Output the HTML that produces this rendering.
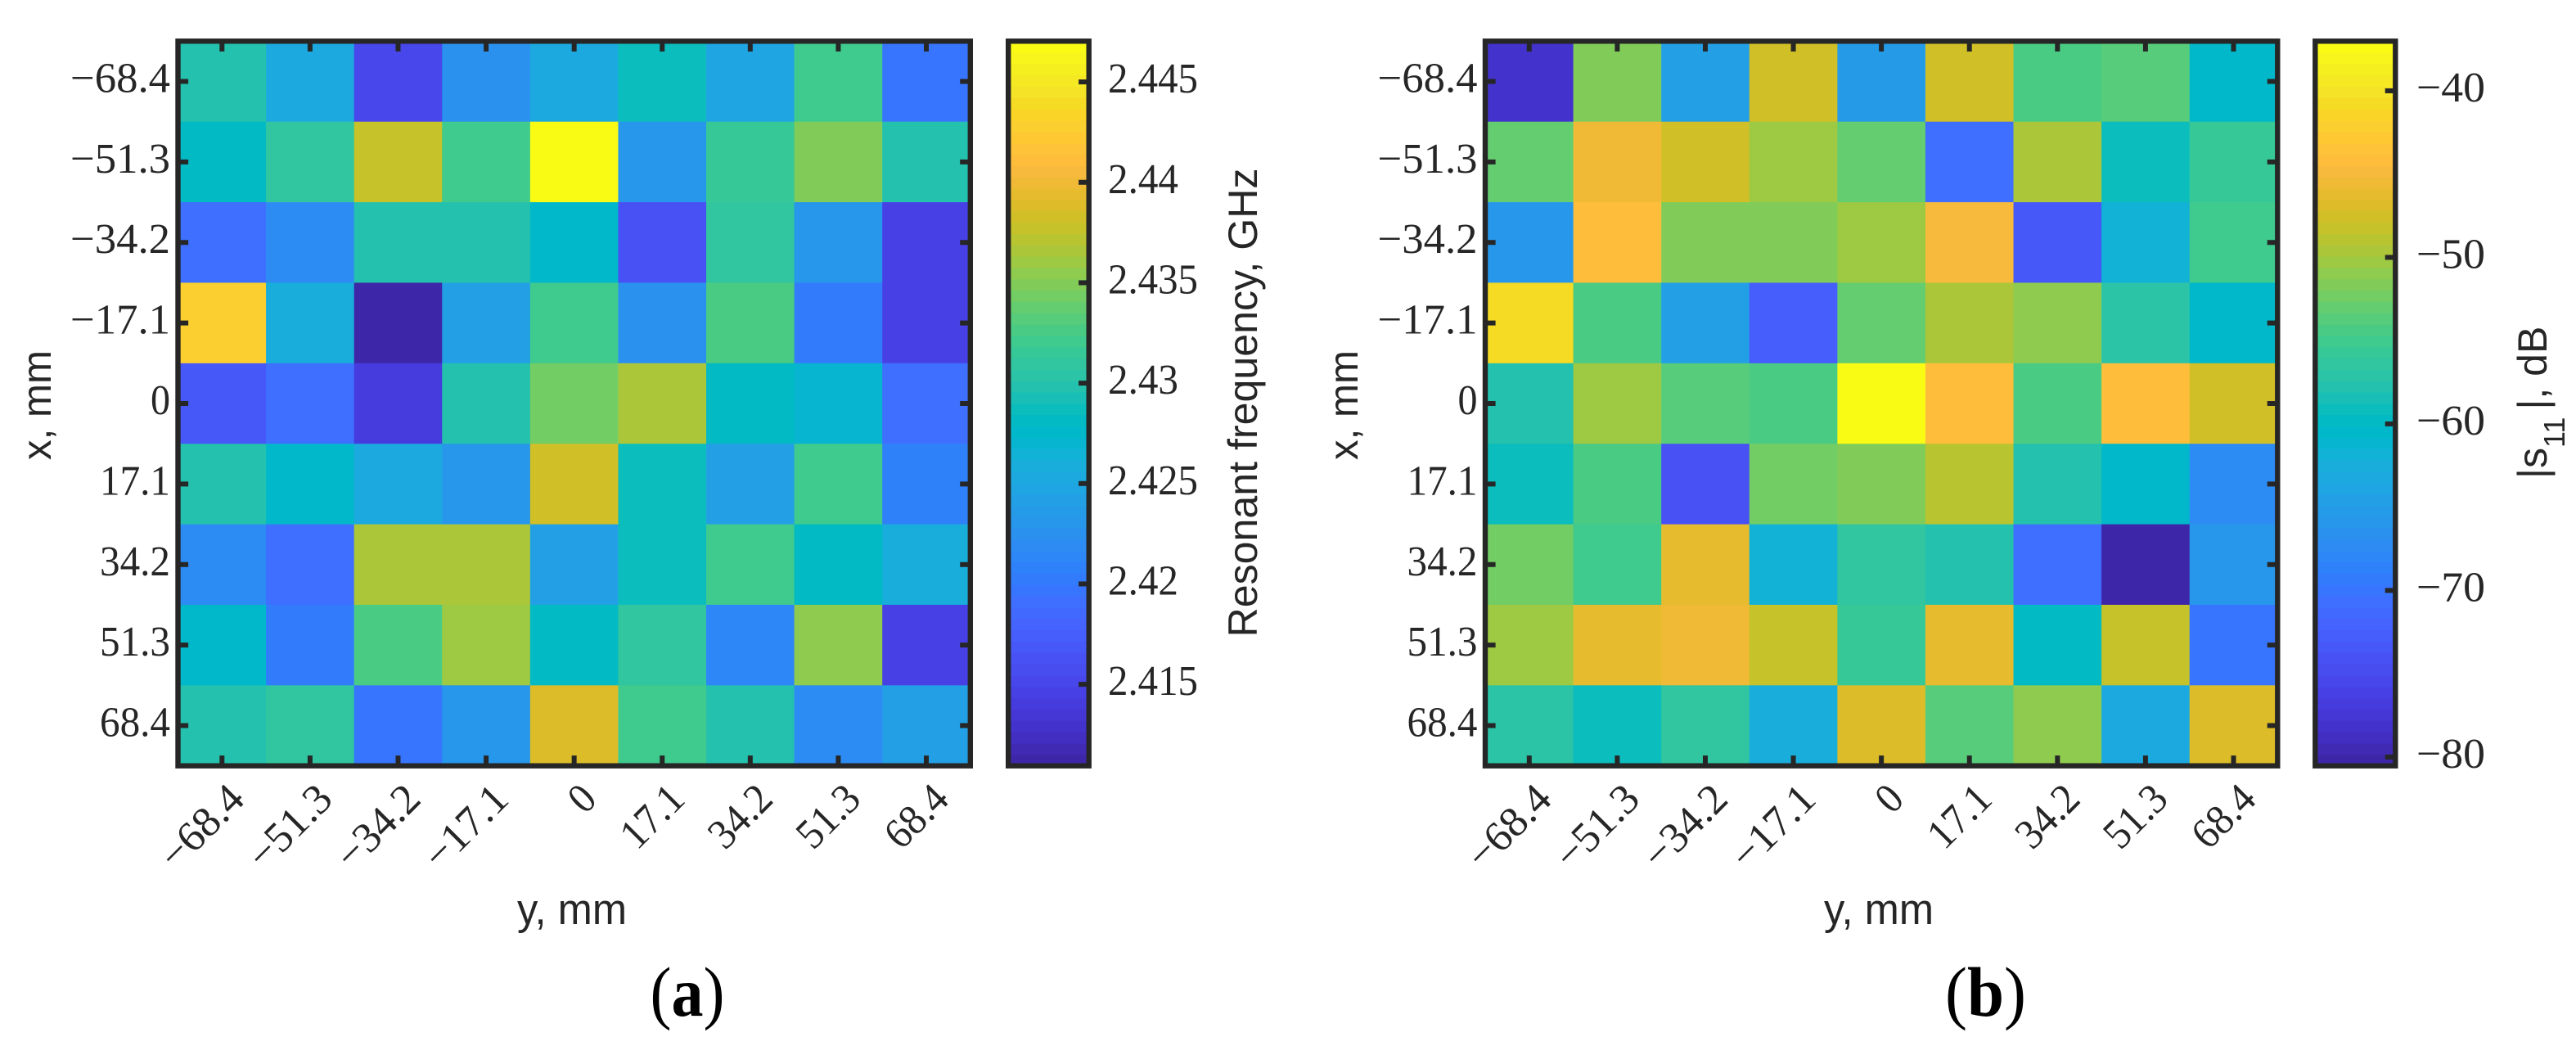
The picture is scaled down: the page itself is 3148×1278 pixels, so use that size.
<!DOCTYPE html>
<html lang="en">
<head>
<meta charset="utf-8">
<title>Resonant frequency and s11 heatmaps</title>
<style>
html,body{margin:0;padding:0;background:#fff;}
svg{display:block;}
.tick{font-family:"Liberation Serif",serif;font-size:52px;fill:#262626;}
.title{font-family:"Liberation Sans",sans-serif;fill:#262626;}
.cap{font-family:"Liberation Serif",serif;font-size:86px;fill:#000;}
</style>
</head>
<body>
<svg id="fig" xmlns="http://www.w3.org/2000/svg" width="3148" height="1278" viewBox="0 0 3148 1278">
<rect x="0" y="0" width="3148" height="1278" fill="#ffffff"/>
<g id="panel-a"></g>
<g id="panel-b"></g>

<text class="title" font-size="53" x="699" y="1129" text-anchor="middle" textLength="134" lengthAdjust="spacingAndGlyphs">y, mm</text>
<text class="title" font-size="50" transform="translate(62,495) rotate(-90)" text-anchor="middle" textLength="134" lengthAdjust="spacingAndGlyphs">x, mm</text>
<text class="title" font-size="50" transform="translate(1536,492) rotate(-90)" text-anchor="middle" textLength="573" lengthAdjust="spacingAndGlyphs">Resonant frequency, GHz</text>
<text class="cap" x="840" y="1241" text-anchor="middle" textLength="91" lengthAdjust="spacingAndGlyphs">(<tspan font-weight="bold">a</tspan>)</text>

<text class="title" font-size="53" x="2296" y="1129" text-anchor="middle" textLength="134" lengthAdjust="spacingAndGlyphs">y, mm</text>
<text class="title" font-size="50" transform="translate(1659,495) rotate(-90)" text-anchor="middle" textLength="134" lengthAdjust="spacingAndGlyphs">x, mm</text>
<text class="title" font-size="50" transform="translate(3112,585) rotate(-90)">|s<tspan font-size="36" dy="22">11</tspan><tspan dx="9" dy="-22">|, dB</tspan></text>
<text class="cap" x="2426.5" y="1241" text-anchor="middle" textLength="99" lengthAdjust="spacingAndGlyphs">(<tspan font-weight="bold">b</tspan>)</text>
</svg>

<script>
const categories = ['\u221268.4','\u221251.3','\u221234.2','\u221217.1','0','17.1','34.2','51.3','68.4'];

const freqRow1 = [2.4298,2.4253,2.4152,2.4225,2.4253,2.4287,2.4248,2.4321,2.4197];
const freqRow2 = [2.4281,2.4310,2.4377,2.4321,2.4467,2.4231,2.4315,2.4349,2.4298];
const freqRow3 = [2.4191,2.4219,2.4298,2.4298,2.4276,2.4163,2.4310,2.4231,2.4146];
const freqRow4 = [2.4428,2.4259,2.4112,2.4242,2.4321,2.4225,2.4327,2.4202,2.4146];
const freqRow5 = [2.4169,2.4191,2.4140,2.4298,2.4343,2.4366,2.4281,2.4270,2.4191];
const freqRow6 = [2.4298,2.4276,2.4253,2.4231,2.4383,2.4287,2.4242,2.4321,2.4208];
const freqRow7 = [2.4219,2.4191,2.4366,2.4366,2.4242,2.4287,2.4321,2.4281,2.4259];
const freqRow8 = [2.4276,2.4202,2.4327,2.4360,2.4281,2.4310,2.4214,2.4355,2.4146];
const freqRow9 = [2.4298,2.4310,2.4197,2.4231,2.4389,2.4321,2.4298,2.4219,2.4242];
const freqValues = [freqRow1,freqRow2,freqRow3,freqRow4,freqRow5,freqRow6,freqRow7,freqRow8,freqRow9];
const freqRange = [2.41094,2.44703];
const freqTicks = [2.415,2.42,2.425,2.43,2.435,2.44,2.445];
const freqTickLabels = ['2.415','2.42','2.425','2.43','2.435','2.44','2.445'];

const s11Row1 = [-78.3,-51.8,-64.7,-47.7,-65.4,-47.7,-54.5,-53.8,-60.6];
const s11Row2 = [-53.1,-45.7,-47.7,-50.4,-53.1,-70.8,-49.7,-59.3,-55.9];
const s11Row3 = [-66.1,-44.3,-51.8,-51.8,-50.4,-45.0,-73.5,-62.0,-55.2];
const s11Row4 = [-40.9,-54.5,-64.7,-72.9,-53.1,-49.7,-51.1,-57.2,-60.6];
const s11Row5 = [-57.9,-50.4,-53.8,-54.5,-37.5,-44.3,-54.5,-44.3,-47.7];
const s11Row6 = [-59.3,-54.5,-74.2,-52.5,-51.8,-49.1,-57.9,-60.6,-67.4];
const s11Row7 = [-52.5,-55.2,-46.3,-62.0,-56.5,-57.9,-70.8,-80.3,-66.1];
const s11Row8 = [-50.4,-46.3,-45.7,-48.4,-55.9,-46.3,-60.0,-48.4,-70.1];
const s11Row9 = [-57.2,-59.3,-56.5,-62.7,-47.0,-53.8,-51.1,-63.3,-47.0];
const s11Values = [s11Row1,s11Row2,s11Row3,s11Row4,s11Row5,s11Row6,s11Row7,s11Row8,s11Row9];
const s11Range = [-80.53,-37.02];
const s11Ticks = [-80,-70,-60,-50,-40];
const s11TickLabels = ['\u221280','\u221270','\u221260','\u221250','\u221240'];

const parula = [
[.2422,.1504,.6603],[.2504,.1650,.7076],[.2578,.1818,.7511],[.2647,.1978,.7952],
[.2706,.2147,.8364],[.2751,.2342,.8710],[.2783,.2559,.8991],[.2803,.2782,.9221],
[.2813,.3006,.9414],[.2810,.3228,.9579],[.2795,.3447,.9717],[.2760,.3667,.9829],
[.2699,.3892,.9906],[.2602,.4123,.9952],[.2440,.4358,.9988],[.2206,.4603,.9973],
[.1963,.4847,.9892],[.1834,.5074,.9798],[.1786,.5289,.9682],[.1764,.5499,.9520],
[.1687,.5703,.9359],[.1540,.5902,.9218],[.1460,.6091,.9079],[.1380,.6276,.8973],
[.1248,.6459,.8883],[.1113,.6635,.8763],[.0952,.6798,.8598],[.0689,.6948,.8394],
[.0297,.7082,.8163],[.0036,.7197,.7917],[.0066,.7295,.7660],[.0433,.7411,.7394],
[.0964,.7500,.7120],[.1408,.7584,.6842],[.1717,.7670,.6554],[.1938,.7758,.6251],
[.2161,.7843,.5923],[.2470,.7918,.5567],[.2906,.7973,.5188],[.3406,.8008,.4789],
[.3909,.8029,.4354],[.4456,.8024,.3909],[.5044,.7993,.3480],[.5616,.7942,.3045],
[.6174,.7876,.2612],[.6720,.7793,.2227],[.7242,.7698,.1910],[.7738,.7598,.1646],
[.8203,.7498,.1535],[.8634,.7406,.1596],[.9035,.7330,.1774],[.9393,.7288,.2100],
[.9728,.7298,.2394],[.9956,.7434,.2371],[.9970,.7659,.2199],[.9952,.7861,.1999],
[.9892,.8137,.1881],[.9786,.8342,.1546],[.9597,.8600,.1400],[.9610,.8890,.1537],
[.9597,.9135,.1423],[.9628,.9373,.1265],[.9691,.9606,.1064],[.9769,.9839,.0805]
];

const NS = 'http://www.w3.org/2000/svg';
const INK = '#262626';
const TOP = 50.3, BOTTOM = 935.7, FRAME = 6, TICK_LEN = 12.6;

function svgEl(parent, tag) {
  const el = document.createElementNS(NS, tag);
  parent.appendChild(el);
  return el;
}
function rgb(c) {
  return 'rgb(' + c.map(function (v) { return Math.round(v * 255); }).join(',') + ')';
}
function colorFor(v, range) {
  const t = (v - range[0]) / (range[1] - range[0]);
  const i = Math.max(0, Math.min(parula.length - 1, Math.floor(t * parula.length)));
  return rgb(parula[i]);
}
function labelWidth(s) {
  let w = 0;
  for (const ch of s) {
    if (ch === '\u2212') w += 36;
    else if (ch === '.') w += 14;
    else w += 24;
  }
  return w;
}
function drawLine(parent, x1, y1, x2, y2, name) {
  const l = svgEl(parent, 'line');
  
  
  l.setAttribute('x1', x1); l.setAttribute('y1', y1);
  l.setAttribute('x2', x2); l.setAttribute('y2', y2);
  l.setAttribute('stroke', INK);
  l.setAttribute('stroke-width', FRAME);
  return l;
}
function drawFrame(parent, x, y, w, h, name) {
  const f = svgEl(parent, 'rect');
  
  
  f.setAttribute('x', x); f.setAttribute('y', y);
  f.setAttribute('width', w); f.setAttribute('height', h);
  f.setAttribute('fill', 'none');
  f.setAttribute('stroke', INK);
  f.setAttribute('stroke-width', FRAME + 0.4);
  f.setAttribute('stroke-linejoin', 'miter');
}
function drawTickText(parent, x, y, s, name) {
  const t = svgEl(parent, 'text');
  
  
  t.setAttribute('class', 'tick');
  t.setAttribute('x', x);
  t.setAttribute('y', y);
  t.setAttribute('text-anchor', 'end');
  t.setAttribute('textLength', labelWidth(s));
  t.setAttribute('lengthAdjust', 'spacingAndGlyphs');
  t.textContent = s;
  return t;
}

function drawPanel(parentId, left, right, values, range, ticks, tickLabels, cbLeft, cbRight, cbLabelX) {
  const g = document.getElementById(parentId);
  const n = categories.length;
  const xBand = function (i) { return left + (right - left) * i / n; };
  const yBand = function (i) { return TOP + (BOTTOM - TOP) * i / n; };
  const xMid = function (i) { return xBand(i + 0.5); };
  const yMid = function (i) { return yBand(i + 0.5); };
  const cbY = function (v) { return BOTTOM - (v - range[0]) / (range[1] - range[0]) * (BOTTOM - TOP); };

  values.forEach(function (row, r) {
    row.forEach(function (v, c) {
      const cell = svgEl(g, 'rect');
      
      
      cell.setAttribute('x', xBand(c));
      cell.setAttribute('y', yBand(r));
      cell.setAttribute('width', xBand(c + 1) - xBand(c) + 0.4);
      cell.setAttribute('height', yBand(r + 1) - yBand(r) + 0.4);
      cell.setAttribute('fill', colorFor(v, range));
    });
  });

  categories.forEach(function (label, i) {
    const x = xMid(i), y = yMid(i);
    drawLine(g, x, TOP, x, TOP + TICK_LEN, 'x-tick-top');
    drawLine(g, x, BOTTOM, x, BOTTOM - TICK_LEN, 'x-tick-bottom');
    drawLine(g, left, y, left + TICK_LEN, y, 'y-tick-left');
    drawLine(g, right, y, right - TICK_LEN, y, 'y-tick-right');
    drawTickText(g, left - 9.5, y + 13, label, 'y-tick-label');
    const t = drawTickText(g, 0, 0, label, 'x-tick-label');
    t.setAttribute('transform', 'translate(' + (x + 30) + ',979) rotate(-45)');
  });
  drawFrame(g, left, TOP, right - left, BOTTOM - TOP, 'plot-frame');

  const steps = parula.length;
  parula.forEach(function (c, i) {
    const s = svgEl(g, 'rect');
    const yTop = BOTTOM - (i + 1) / steps * (BOTTOM - TOP);
    
    
    s.setAttribute('x', cbLeft);
    s.setAttribute('y', yTop);
    s.setAttribute('width', cbRight - cbLeft);
    s.setAttribute('height', (BOTTOM - TOP) / steps + 0.4);
    s.setAttribute('fill', rgb(c));
  });
  ticks.forEach(function (v, i) {
    const y = cbY(v);
    drawLine(g, cbRight, y, cbRight - TICK_LEN, y, 'colorbar-tick');
    const t = drawTickText(g, 0, y + 13, tickLabels[i], 'colorbar-tick-label');
    t.setAttribute('text-anchor', 'start');
    t.setAttribute('x', cbLabelX);
  });
  drawFrame(g, cbLeft, TOP, cbRight - cbLeft, BOTTOM - TOP, 'colorbar-frame');
}

drawPanel('panel-a', 217.5, 1185.8, freqValues, freqRange, freqTicks, freqTickLabels, 1232.2, 1330.7, 1354);
drawPanel('panel-b', 1815, 2783.3, s11Values, s11Range, s11Ticks, s11TickLabels, 2829.3, 2927.3, 2953);
</script>
</body>
</html>
